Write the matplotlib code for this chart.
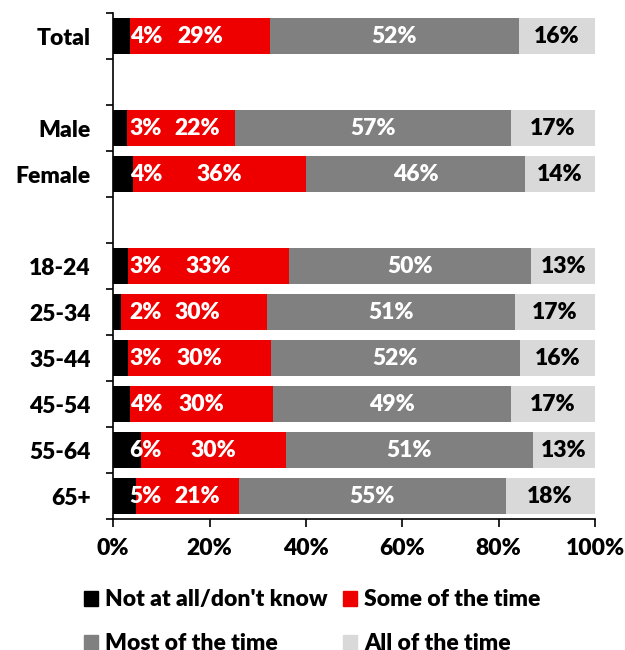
import numpy as np
import matplotlib.pyplot as plt
from matplotlib.patches import Patch

plt.rcParams['font.family'] = ['Lato', 'DejaVu Sans']
plt.rcParams['font.weight'] = 'heavy'

# Rows top to bottom; empty strings are spacer rows
groups = ['Total', '', 'Male', 'Female', '', '18-24', '25-34', '35-44', '45-54', '55-64', '65+']

# Share of respondents (%) per answer
not_at_all = [3.5, np.nan, 2.8, 4.1, np.nan, 3.1, 1.6, 3.0, 3.5, 5.7, 4.7]
some_time = [29.0, np.nan, 22.4, 35.9, np.nan, 33.3, 30.4, 29.8, 29.7, 30.1, 21.4]
most_time = [51.7, np.nan, 57.4, 45.5, np.nan, 50.4, 51.4, 51.6, 49.4, 51.3, 55.4]
all_time = [15.8, np.nan, 17.4, 14.5, np.nan, 13.2, 16.6, 15.6, 17.4, 12.9, 18.4]

series = [
    ("Not at all/don't know", not_at_all, '#000000', 'white'),
    ('Some of the time', some_time, '#EE0000', 'white'),
    ('Most of the time', most_time, '#808080', 'white'),
    ('All of the time', all_time, '#D9D9D9', 'black'),
]

FS = 16.5

fig = plt.figure(figsize=(6.25, 6.5), dpi=100)
ax = fig.add_axes([0.181, 0.2015, 0.771, 0.7785])

y = np.arange(len(groups))
left = np.zeros(len(groups))
for i, (name, vals, color, txt) in enumerate(series):
    vals = np.array(vals, dtype=float)
    w = np.nan_to_num(vals)
    ax.barh(y, w, left=left, height=0.78, color=color, label=name)
    for yi, v, l in zip(y, vals, left):
        if np.isnan(v):
            continue
        x = l + v / 2
        if i == 0:
            # thin segment: label sits just past the bar
            x = 6.8
        elif i == 1:
            # keep clear of the first label
            x = max(x, 17.5)
        ax.text(x, yi, f'{v:.0f}%', ha='center', va='center',
                color=txt, fontsize=FS, fontweight='heavy')
    left += w

ax.set_xlim(0, 100)
ax.set_ylim(len(groups) - 0.5, -0.5)
ax.set_xticks(np.arange(0, 101, 20))
ax.set_xticklabels([f'{t}%' for t in range(0, 101, 20)])
ax.set_yticks(y)
ax.set_yticklabels(groups)
ax.set_yticks(np.arange(-0.5, len(groups)), minor=True)
ax.tick_params(axis='y', which='major', length=0, pad=16, labelsize=FS)
ax.tick_params(axis='y', which='minor', length=5, width=1.2)
ax.tick_params(axis='x', length=6, width=1.2, pad=8, labelsize=FS)
for lbl in ax.get_xticklabels() + ax.get_yticklabels():
    lbl.set_fontweight('heavy')

for s in ['top', 'right']:
    ax.spines[s].set_visible(False)
ax.spines['left'].set_linewidth(1.2)
ax.spines['bottom'].set_linewidth(1.2)

# legend fills column by column, so order handles to read across rows
order = [0, 2, 1, 3]
handles = [Patch(color=series[k][2], label=series[k][0]) for k in order]
fig.legend(handles=handles, ncol=2, loc='upper left', bbox_to_anchor=(0.108, 0.118),
           frameon=False, handlelength=0.62, handleheight=0.62, handletextpad=0.3,
           columnspacing=0.7, labelspacing=1.0, borderpad=0.2,
           prop={'weight': 'heavy', 'size': FS})

fig.savefig('out.png', dpi=100)
